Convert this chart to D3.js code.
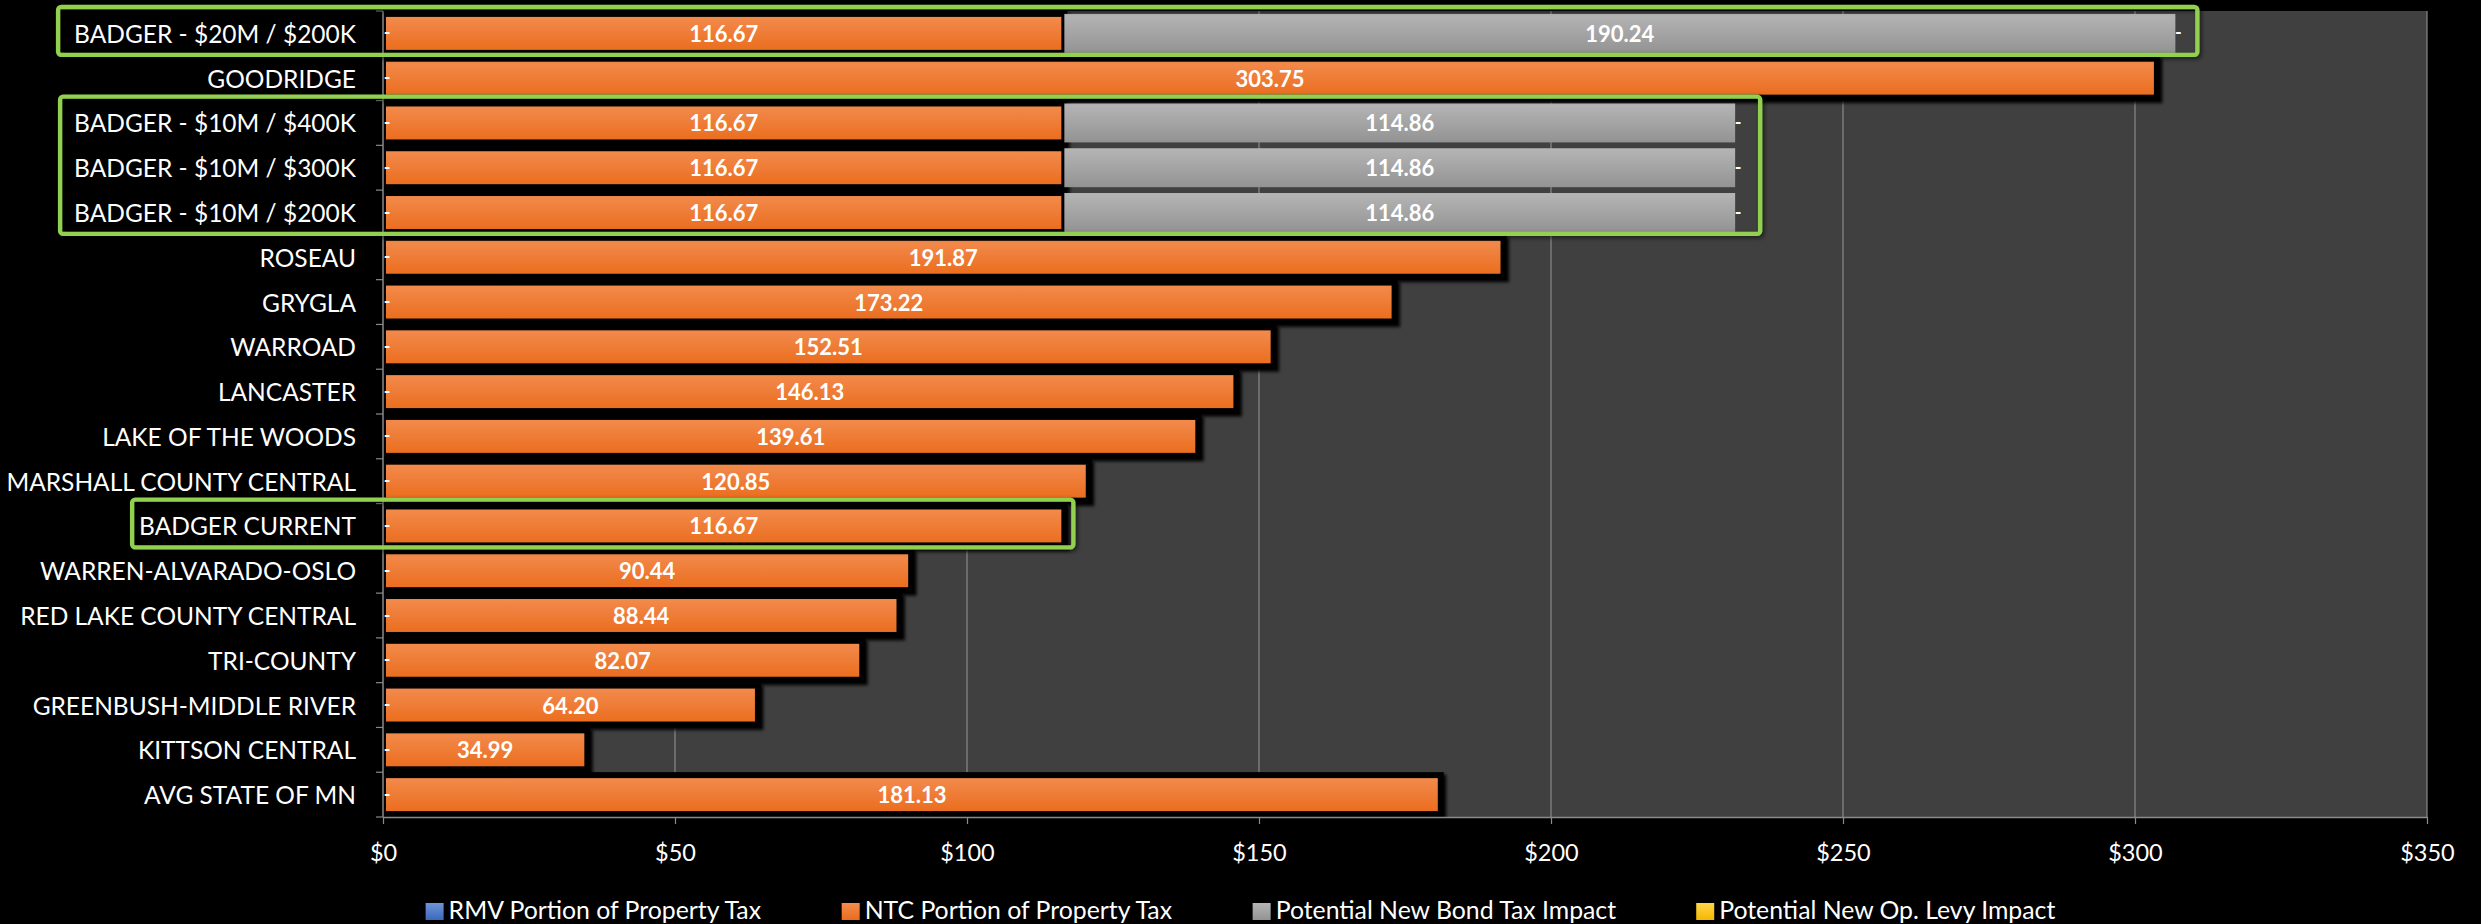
<!DOCTYPE html>
<html>
<head>
<meta charset="utf-8">
<script src="https://cdn.jsdelivr.net/npm/d3@7"></script>
<style>
    html, body { margin: 0; padding: 0; background: #000; }
    svg { display: block; }
    text { font-family: Lato, "Open Sans", sans-serif; }
</style>
</head>
<body>
<svg id="chart" width="2481" height="924"></svg>
<script>
// Categories, top to bottom as they appear on the chart
const categories = [
    "BADGER - $20M / $200K",
    "GOODRIDGE",
    "BADGER - $10M / $400K",
    "BADGER - $10M / $300K",
    "BADGER - $10M / $200K",
    "ROSEAU",
    "GRYGLA",
    "WARROAD",
    "LANCASTER",
    "LAKE OF THE WOODS",
    "MARSHALL COUNTY CENTRAL",
    "BADGER CURRENT",
    "WARREN-ALVARADO-OSLO",
    "RED LAKE COUNTY CENTRAL",
    "TRI-COUNTY",
    "GREENBUSH-MIDDLE RIVER",
    "KITTSON CENTRAL",
    "AVG STATE OF MN"
];

const rmvValues = [0, 0, 0, 0, 0, 0, 0, 0, 0, 0, 0, 0, 0, 0, 0, 0, 0, 0];
const ntcValues = [116.67, 303.75, 116.67, 116.67, 116.67, 191.87, 173.22, 152.51, 146.13, 139.61, 120.85, 116.67, 90.44, 88.44, 82.07, 64.20, 34.99, 181.13];
const bondValues = [190.24, 0, 114.86, 114.86, 114.86, 0, 0, 0, 0, 0, 0, 0, 0, 0, 0, 0, 0, 0];
const levyValues = [0, 0, 0, 0, 0, 0, 0, 0, 0, 0, 0, 0, 0, 0, 0, 0, 0, 0];

const xTicks = [0, 50, 100, 150, 200, 250, 300, 350];

const legendLabels = [
    "RMV Portion of Property Tax",
    "NTC Portion of Property Tax",
    "Potential New Bond Tax Impact",
    "Potential New Op. Levy Impact"
];

// green call-out boxes around the Badger scenarios
const highlightGroups = [
    { first: "BADGER - $20M / $200K", last: "BADGER - $20M / $200K", padLeft: 16, padRight: 22 },
    { first: "BADGER - $10M / $400K", last: "BADGER - $10M / $200K", padLeft: 14, padRight: 25 },
    { first: "BADGER CURRENT", last: "BADGER CURRENT", padLeft: 7, padRight: 9 }
];

const rows = categories.map((name, i) => ({
    name,
    rmv: rmvValues[i],
    ntc: ntcValues[i],
    bond: bondValues[i],
    levy: levyValues[i]
}));

const svg = d3.select("#chart");
const width = 2481;
const height = 924;
const margin = { top: 11, right: 54, bottom: 107, left: 383 };
const chartWidth = width - margin.left - margin.right;
const chartHeight = height - margin.top - margin.bottom;

const defs = svg.append("defs");

function addGradient(id, top, bottom) {
    const g = defs.append("linearGradient").attr("id", id)
        .attr("x1", 0).attr("y1", 0).attr("x2", 0).attr("y2", 1);
    g.append("stop").attr("offset", "0%").attr("stop-color", top);
    g.append("stop").attr("offset", "100%").attr("stop-color", bottom);
}
addGradient("grad-rmv", "#6f95d6", "#3a68bd");
addGradient("grad-ntc", "#f38d50", "#ea6b1c");
addGradient("grad-bond", "#b5b5b5", "#939393");
addGradient("grad-levy", "#ffd54a", "#f5b800");

const shadow = defs.append("filter").attr("id", "bar-shadow")
    .attr("x", "-5%").attr("y", "-30%").attr("width", "110%").attr("height", "160%");
shadow.append("feDropShadow")
    .attr("dx", 2.5).attr("dy", 2.5).attr("stdDeviation", 1.5)
    .attr("flood-color", "#000").attr("flood-opacity", 0.95);

const boxShadow = defs.append("filter").attr("id", "box-shadow")
    .attr("x", "-5%").attr("y", "-30%").attr("width", "110%").attr("height", "160%");
boxShadow.append("feDropShadow")
    .attr("dx", 2).attr("dy", 2).attr("stdDeviation", 2)
    .attr("flood-color", "#000").attr("flood-opacity", 0.6);

svg.append("rect").attr("width", width).attr("height", height).attr("fill", "#000");

const chart = svg.append("g").attr("transform", `translate(${margin.left},${margin.top})`);

const xScale = d3.scaleLinear().domain([0, 350]).range([0, chartWidth]);
const yScale = d3.scaleBand().domain(categories).range([0, chartHeight])
    .paddingInner(0.13).paddingOuter(0.065);
const step = yScale.step();

// plot area
chart.append("rect")
    .attr("width", chartWidth)
    .attr("height", chartHeight)
    .attr("fill", "#404040");

// vertical gridlines
chart.append("g")
    .selectAll("line")
    .data(xTicks.slice(1))
    .join("line")
    .attr("x1", (d) => xScale(d))
    .attr("x2", (d) => xScale(d))
    .attr("y1", 0)
    .attr("y2", chartHeight)
    .attr("stroke", "#8a8a8a")
    .attr("stroke-width", 1.2);

// NTC bars (orange, black outline + shadow)
const barsGroup = chart.append("g");
barsGroup.selectAll("rect.ntc")
    .data(rows.filter((d) => d.ntc > 0))
    .join("rect")
    .attr("class", "ntc")
    .attr("x", (d) => xScale(d.rmv))
    .attr("y", (d) => yScale(d.name))
    .attr("width", (d) => xScale(d.rmv + d.ntc) - xScale(d.rmv))
    .attr("height", yScale.bandwidth())
    .attr("fill", "url(#grad-ntc)")
    .attr("stroke", "#000")
    .attr("stroke-width", 6)
    .attr("filter", "url(#bar-shadow)");

// bond bars (gray)
barsGroup.selectAll("rect.bond")
    .data(rows.filter((d) => d.bond > 0))
    .join("rect")
    .attr("class", "bond")
    .attr("x", (d) => xScale(d.rmv + d.ntc))
    .attr("y", (d) => yScale(d.name))
    .attr("width", (d) => xScale(d.rmv + d.ntc + d.bond) - xScale(d.rmv + d.ntc))
    .attr("height", yScale.bandwidth())
    .attr("fill", "url(#grad-bond)");

// data labels
const fmt = d3.format(".2f");
const labelsGroup = chart.append("g")
    .attr("fill", "#fff")
    .attr("font-weight", 700)
    .attr("font-size", 22)
    .attr("text-anchor", "middle")
    .attr("dominant-baseline", "central");

labelsGroup.selectAll("text.ntc")
    .data(rows.filter((d) => d.ntc > 0))
    .join("text")
    .attr("class", "ntc")
    .attr("x", (d) => xScale(d.rmv + d.ntc / 2))
    .attr("y", (d) => yScale(d.name) + yScale.bandwidth() / 2)
    .text((d) => fmt(d.ntc));

labelsGroup.selectAll("text.bond")
    .data(rows.filter((d) => d.bond > 0))
    .join("text")
    .attr("class", "bond")
    .attr("x", (d) => xScale(d.rmv + d.ntc + d.bond / 2))
    .attr("y", (d) => yScale(d.name) + yScale.bandwidth() / 2)
    .text((d) => fmt(d.bond));

// zero-valued series show "-" (accounting format)
labelsGroup.selectAll("text.rmv")
    .data(rows)
    .join("text")
    .attr("class", "rmv")
    .attr("x", (d) => xScale(d.rmv) + 4)
    .attr("y", (d) => yScale(d.name) + yScale.bandwidth() / 2 - 1)
    .attr("font-size", 18)
    .text((d) => (d.rmv === 0 ? "-" : fmt(d.rmv)));

labelsGroup.selectAll("text.levy")
    .data(rows.filter((d) => d.bond > 0))
    .join("text")
    .attr("class", "levy")
    .attr("x", (d) => xScale(d.rmv + d.ntc + d.bond + d.levy) + 3)
    .attr("y", (d) => yScale(d.name) + yScale.bandwidth() / 2 - 1)
    .attr("font-size", 18)
    .text((d) => (d.levy === 0 ? "-" : fmt(d.levy)));

// x axis
const xAxisGroup = chart.append("g")
    .attr("transform", `translate(0,${chartHeight})`)
    .call(d3.axisBottom(xScale)
        .tickValues(xTicks)
        .tickFormat((d) => `$${d}`)
        .tickSizeInner(7)
        .tickSizeOuter(0)
        .tickPadding(20));
xAxisGroup.select(".domain").attr("stroke", "#8a8a8a").attr("stroke-width", 1.5);
xAxisGroup.selectAll(".tick line").attr("stroke", "#8a8a8a").attr("stroke-width", 1.2);
xAxisGroup.selectAll(".tick text")
    .attr("fill", "#fff")
    .attr("font-size", 23.5)
    .style("font-family", "Lato, 'Open Sans', sans-serif");

// y axis line + category boundary ticks
const yAxisGroup = chart.append("g");
yAxisGroup.append("line")
    .attr("x1", 0).attr("x2", 0)
    .attr("y1", 0).attr("y2", chartHeight)
    .attr("stroke", "#8a8a8a").attr("stroke-width", 1.5);
yAxisGroup.selectAll("line.tick")
    .data(d3.range(categories.length + 1))
    .join("line")
    .attr("class", "tick")
    .attr("x1", -7).attr("x2", 0)
    .attr("y1", (i) => i * step)
    .attr("y2", (i) => i * step)
    .attr("stroke", "#8a8a8a")
    .attr("stroke-width", 1.2);

const catLabels = chart.append("g")
    .selectAll("text")
    .data(categories)
    .join("text")
    .attr("x", -27)
    .attr("y", (d) => yScale(d) + yScale.bandwidth() / 2)
    .attr("text-anchor", "end")
    .attr("dominant-baseline", "central")
    .attr("fill", "#fff")
    .attr("font-size", 24.5)
    .text((d) => d);

// green highlight boxes
const labelBox = new Map();
catLabels.each(function (d) { labelBox.set(d, this.getBBox()); });

chart.append("g")
    .selectAll("rect")
    .data(highlightGroups)
    .join("rect")
    .each(function (g) {
        const i0 = categories.indexOf(g.first);
        const i1 = categories.indexOf(g.last);
        const names = categories.slice(i0, i1 + 1);
        const left = d3.min(names, (n) => labelBox.get(n).x) - g.padLeft;
        const right = d3.max(names, (n) => {
            const r = rows.find((row) => row.name === n);
            return xScale(r.rmv + r.ntc + r.bond + r.levy);
        }) + g.padRight;
        const top = i0 * step - 4;
        const bottom = (i1 + 1) * step - 1;
        d3.select(this)
            .attr("x", left)
            .attr("y", top)
            .attr("width", right - left)
            .attr("height", bottom - top);
    })
    .attr("rx", 3)
    .attr("fill", "none")
    .attr("stroke", "#92d050")
    .attr("stroke-width", 4.3)
    .attr("filter", "url(#box-shadow)");

// legend, centred under the whole figure
const legendColors = ["url(#grad-rmv)", "url(#grad-ntc)", "url(#grad-bond)", "url(#grad-levy)"];
const legend = svg.append("g");
const legendItems = legend.selectAll("g")
    .data(legendLabels)
    .join("g");
legendItems.append("rect")
    .attr("y", 903)
    .attr("width", 18)
    .attr("height", 17)
    .attr("fill", (d, i) => legendColors[i]);
legendItems.append("text")
    .attr("x", 23)
    .attr("y", 919)
    .attr("fill", "#fff")
    .attr("font-size", 24.8)
    .text((d) => d);

let cursor = 0;
const itemGap = 80;
legendItems.each(function () {
    const w = this.getBBox().width;
    d3.select(this).attr("transform", `translate(${cursor},0)`);
    cursor += w + itemGap;
});
const legendWidth = cursor - itemGap;
legend.attr("transform", `translate(${(width - legendWidth) / 2},0)`);
</script>
</body>
</html>
